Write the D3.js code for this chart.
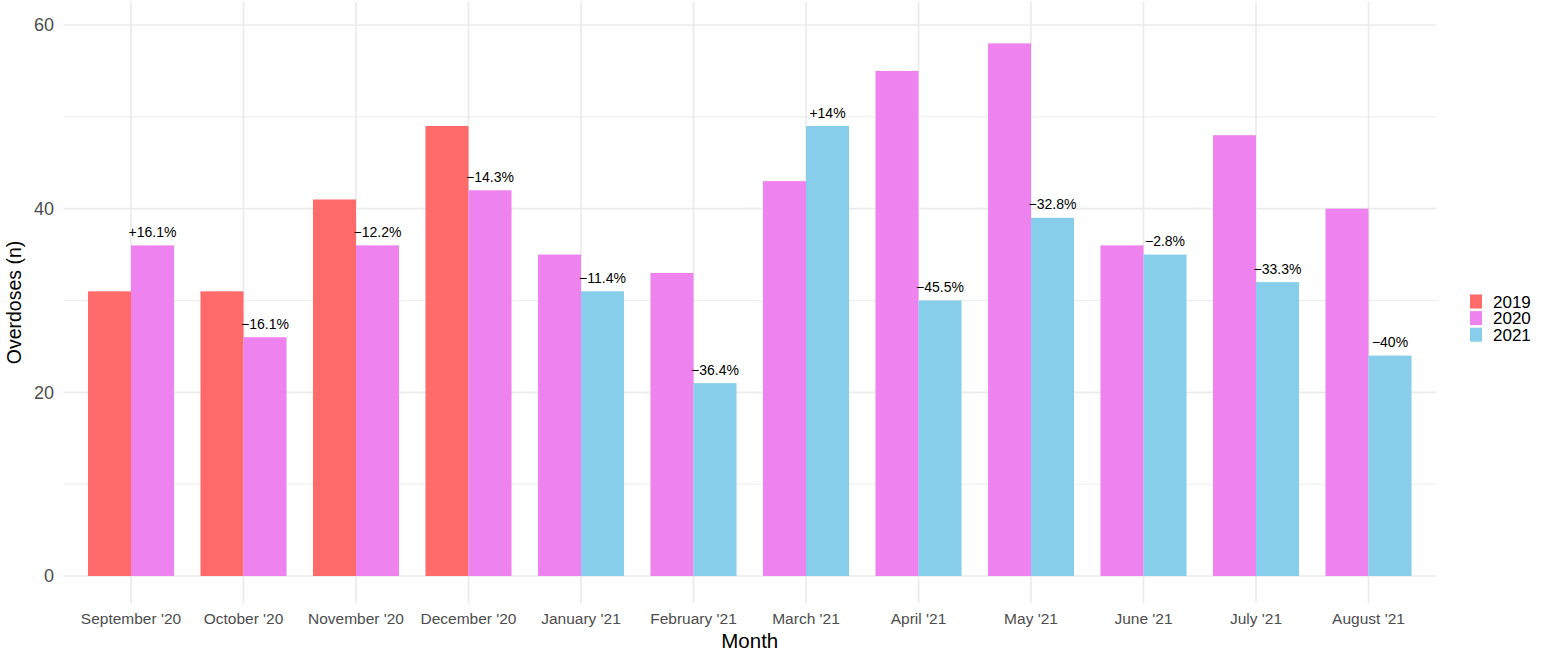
<!DOCTYPE html>
<html>
<head>
<meta charset="utf-8">
<script src="https://cdn.jsdelivr.net/npm/d3@7"></script>
<style>
  html, body { margin: 0; padding: 0; background: #fff; }
  svg { display: block; font-family: "Liberation Sans", Arial, sans-serif; }
</style>
</head>
<body>
<svg id="chart" width="1549" height="653"></svg>
<script>
// ---- data ----
const months = ["September '20", "October '20", "November '20", "December '20", "January '21", "February '21",
                "March '21", "April '21", "May '21", "June '21", "July '21", "August '21"];
const priorYear = ["2019", "2019", "2019", "2019", "2020", "2020", "2020", "2020", "2020", "2020", "2020", "2020"];
const priorValues = [31, 31, 41, 49, 35, 33, 43, 55, 58, 36, 48, 40];
const currentYear = ["2020", "2020", "2020", "2020", "2021", "2021", "2021", "2021", "2021", "2021", "2021", "2021"];
const currentValues = [36, 26, 36, 42, 31, 21, 49, 30, 39, 35, 32, 24];
const changeLabels = ["+16.1%", "\u221216.1%", "\u221212.2%", "\u221214.3%", "\u221211.4%", "\u221236.4%",
                      "+14%", "\u221245.5%", "\u221232.8%", "\u22122.8%", "\u221233.3%", "\u221240%"];
const legendYears = ["2019", "2020", "2021"];
const yTicks = [0, 20, 40, 60];
const yMinorTicks = [10, 30, 50];

const colors = d3.scaleOrdinal().domain(legendYears).range(["#FF6A6A", "#EE82EE", "#87CEEB"]);

const svg = d3.select("#chart");
const panel = { left: 63.5, right: 1436, top: 2, bottom: 603 };

// ggplot discrete expansion: 0.6 units on each side
const step = (panel.right - panel.left) / (months.length - 1 + 1.2);
const x = d3.scaleBand().domain(months)
  .range([panel.left + 0.6 * step - step / 2, panel.right - 0.6 * step + step / 2]).padding(0);
const y = d3.scaleLinear().domain([0, 60]).range([576, 25]);

const barW = step * 0.765 / 2;
const g = svg.append("g");

// grid
const grid = g.append("g");
grid.selectAll("line.minor").data(yMinorTicks).join("line")
  .attr("x1", panel.left).attr("x2", panel.right)
  .attr("y1", d => y(d)).attr("y2", d => y(d))
  .attr("stroke", "#EBEBEB").attr("stroke-width", 0.9);
grid.selectAll("line.majorY").data(yTicks).join("line")
  .attr("x1", panel.left).attr("x2", panel.right)
  .attr("y1", d => y(d)).attr("y2", d => y(d))
  .attr("stroke", "#EBEBEB").attr("stroke-width", 1.7);
grid.selectAll("line.majorX").data(months).join("line")
  .attr("x1", d => x(d) + x.bandwidth() / 2).attr("x2", d => x(d) + x.bandwidth() / 2)
  .attr("y1", panel.top).attr("y2", panel.bottom)
  .attr("stroke", "#EBEBEB").attr("stroke-width", 1.7);

// bars
const cx = d => x(d) + x.bandwidth() / 2;
g.selectAll("rect.prior").data(months).join("rect")
  .attr("x", (d) => cx(d) - barW)
  .attr("width", barW)
  .attr("y", (d, i) => y(priorValues[i]))
  .attr("height", (d, i) => y(0) - y(priorValues[i]))
  .attr("fill", (d, i) => colors(priorYear[i]));
g.selectAll("rect.current").data(months).join("rect")
  .attr("x", (d) => cx(d))
  .attr("width", barW)
  .attr("y", (d, i) => y(currentValues[i]))
  .attr("height", (d, i) => y(0) - y(currentValues[i]))
  .attr("fill", (d, i) => colors(currentYear[i]));

// change labels
g.selectAll("text.lab").data(months).join("text")
  .attr("x", d => cx(d) + barW / 2)
  .attr("y", (d, i) => y(currentValues[i]) - 8.5)
  .attr("text-anchor", "middle")
  .attr("font-size", "14px")
  .attr("fill", "#000")
  .text((d, i) => changeLabels[i]);

// y axis labels
g.selectAll("text.ytick").data(yTicks).join("text")
  .attr("x", 54).attr("y", d => y(d))
  .attr("dy", "0.36em")
  .attr("text-anchor", "end")
  .attr("font-size", "18px")
  .attr("fill", "#4D4D4D")
  .text(d => d);

// x axis labels
g.selectAll("text.xtick").data(months).join("text")
  .attr("x", d => cx(d)).attr("y", 624)
  .attr("text-anchor", "middle")
  .attr("font-size", "15.5px")
  .attr("fill", "#4D4D4D")
  .text(d => d);

// axis titles
svg.append("text")
  .attr("x", (panel.left + panel.right) / 2).attr("y", 647.5)
  .attr("text-anchor", "middle")
  .attr("font-size", "20.5px").attr("fill", "#000")
  .text("Month");
svg.append("text")
  .attr("transform", `translate(21,${(panel.top + panel.bottom) / 2}) rotate(-90)`)
  .attr("text-anchor", "middle")
  .attr("font-size", "19.5px").attr("fill", "#000")
  .text("Overdoses (n)");

// legend
const leg = svg.append("g").attr("transform", "translate(1470,294.5)");
const items = leg.selectAll("g").data(legendYears).join("g")
  .attr("transform", (d, i) => `translate(0,${i * 16.6})`);
items.append("rect").attr("width", 12).attr("height", 14).attr("fill", d => colors(d));
items.append("text").attr("x", 23).attr("y", 7).attr("dy", "0.36em")
  .attr("font-size", "17px").attr("fill", "#000").text(d => d);
</script>
</body>
</html>
